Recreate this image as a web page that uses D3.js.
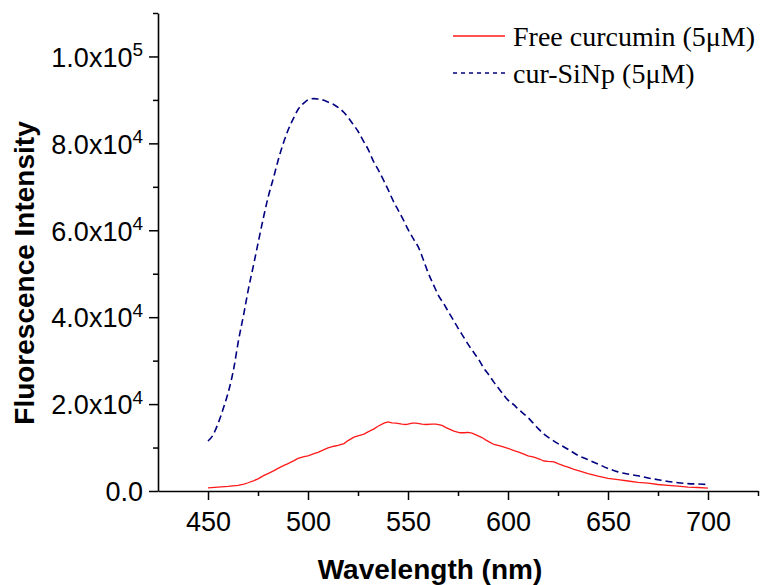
<!DOCTYPE html>
<html>
<head>
<meta charset="utf-8">
<script src="https://cdn.jsdelivr.net/npm/d3@7"></script>
<style>
  body { margin: 0; background: #fff; }
  svg { display: block; }
</style>
</head>
<body>
<div id="chart"></div>
<script>
// cur-SiNp (5uM) spectrum
const wlSiNp = [450, 452, 455, 458, 460, 463, 465, 468, 470, 473, 475, 478, 480, 483, 485, 488, 490, 493, 495, 498,
  500, 503, 505, 508, 510, 513, 515, 518, 520, 523, 525, 528, 530, 533, 535, 538, 540, 543, 545, 548,
  550, 553, 555, 558, 560, 563, 565, 568, 570, 573, 575, 578, 580, 583, 585, 588, 590, 593, 595, 598,
  600, 603, 605, 608, 610, 613, 615, 618, 620, 625, 630, 635, 640, 645, 650, 655, 660, 665, 670, 675,
  680, 685, 690, 695, 700];
const intSiNp = [11500, 12500, 15500, 19500, 22500, 28500, 34000, 41000, 46000, 52500, 57000, 63500, 67500, 72500, 76000, 80500, 83000, 86000, 87800, 89300,
  90000, 90300, 90200, 89900, 89500, 88900, 88300, 87100, 86000, 84100, 82800, 80300, 78700, 75600, 74000, 71300, 69400, 66400, 64700, 62100,
  60200, 57800, 56300, 52800, 50300, 47200, 45200, 43000, 41400, 39100, 37500, 35300, 33800, 31800, 30500, 28200, 27000, 25000, 23800, 22000,
  20900, 19800, 18900, 17700, 16900, 15400, 14400, 13100, 12400, 10900, 9600, 8200, 7200, 6200, 5200, 4400, 3900, 3500, 3000, 2600,
  2200, 1900, 1700, 1600, 1500];

// Free curcumin (5uM) spectrum
const wlFree = [450, 455, 460, 465, 468, 470, 473, 475, 478, 480, 483, 485, 488, 490, 493, 495, 498, 500, 503, 505,
  508, 510, 513, 515, 518, 520, 523, 525, 528, 530, 533, 535, 538, 540, 542, 544, 547, 549, 552, 554,
  557, 559, 562, 564, 567, 569, 571, 573, 576, 578, 580, 582, 584, 587, 589, 591, 593, 596, 598, 600,
  603, 605, 608, 610, 613, 616, 618, 620, 623, 625, 628, 630, 633, 636, 640, 645, 650, 655, 660, 665,
  670, 675, 680, 685, 690, 695, 700];
const intFree = [700, 900, 1050, 1300, 1600, 1900, 2400, 2800, 3600, 4000, 4700, 5200, 5900, 6300, 7000, 7500, 7900, 8100, 8600, 8900,
  9500, 9900, 10300, 10500, 10900, 11600, 12400, 12700, 13100, 13600, 14300, 14900, 15600, 15900, 15700, 15600, 15400, 15300, 15600, 15600,
  15400, 15300, 15400, 15400, 15100, 14600, 14200, 13800, 13400, 13400, 13500, 13300, 12900, 12300, 11700, 11200, 10700, 10400, 10100, 9800,
  9300, 9000, 8500, 8100, 7800, 7300, 6900, 6800, 6700, 6300, 5800, 5500, 5000, 4600, 4000, 3400, 2900, 2600, 2300, 2000,
  1800, 1500, 1300, 1100, 900, 800, 650];

const seriesNames = ["Free curcumin (5\u03bcM)", "cur-SiNp (5\u03bcM)"];
const xMajor = [450, 500, 550, 600, 650, 700];
const xMinor = [475, 525, 575, 625, 675, 725];
const yMajor = [0, 20000, 40000, 60000, 80000, 100000];
const yMinor = [10000, 30000, 50000, 70000, 90000, 110000];

const width = 762, height = 585;
const margin = { top: 13, right: 4, bottom: 94, left: 158 };
const sans = "'Liberation Sans', Arial, sans-serif";
const serif = "'Liberation Serif', 'Times New Roman', serif";

const svg = d3.select("#chart").append("svg")
  .attr("width", width)
  .attr("height", height);

const x = d3.scaleLinear([425, 725], [margin.left, width - margin.right]);
const y = d3.scaleLinear([0, 110000], [height - margin.bottom, margin.top]);

/* curves */
const line = d3.line()
  .x(d => x(d[0]))
  .y(d => y(d[1]));

svg.append("path")
  .datum(d3.zip(wlFree, intFree))
  .attr("fill", "none")
  .attr("stroke", "#ff1a1a")
  .attr("stroke-width", 1.3)
  .attr("d", line);

svg.append("path")
  .datum(d3.zip(wlSiNp, intSiNp))
  .attr("fill", "none")
  .attr("stroke", "#000080")
  .attr("stroke-width", 1.6)
  .attr("stroke-dasharray", "7,4")
  .attr("d", line.curve(d3.curveMonotoneX));

/* axes: minor ticks first, then major with labels */
const xAxisY = height - margin.bottom;

svg.append("g")
  .attr("transform", `translate(0,${xAxisY})`)
  .call(d3.axisBottom(x).tickValues(xMinor).tickSize(5).tickFormat("").tickSizeOuter(0))
  .call(g => g.select(".domain").remove());

const gx = svg.append("g")
  .attr("transform", `translate(0,${xAxisY})`)
  .call(d3.axisBottom(x).tickValues(xMajor).tickSize(9).tickPadding(12).tickSizeOuter(0).tickFormat(d3.format("d")));

gx.selectAll("text")
  .attr("font-family", sans)
  .attr("font-size", 27)
  .attr("fill", "#000");

svg.append("g")
  .attr("transform", `translate(${margin.left},0)`)
  .call(d3.axisLeft(y).tickValues(yMinor).tickSize(5).tickFormat("").tickSizeOuter(0))
  .call(g => g.select(".domain").remove());

const gy = svg.append("g")
  .attr("transform", `translate(${margin.left},0)`)
  .call(d3.axisLeft(y).tickValues(yMajor).tickSize(9).tickPadding(6).tickSizeOuter(0));

gy.selectAll("text")
  .attr("font-family", sans)
  .attr("font-size", 27)
  .attr("fill", "#000")
  .attr("dy", "0.36em")
  .each(function (v) {
    const t = d3.select(this).text(null);
    if (v === 0) { t.text("0.0"); return; }
    const e = Math.floor(Math.log10(v));
    t.append("tspan").text((v / 10 ** e).toFixed(1) + "x10");
    t.append("tspan").attr("font-size", 19).attr("dy", "-0.55em").text(e);
  });

svg.selectAll(".domain").attr("stroke-width", 1.6).attr("stroke", "#000");
svg.selectAll(".tick line").attr("stroke-width", 1.5).attr("stroke", "#000");

/* axis titles */
svg.append("text")
  .attr("x", 430)
  .attr("y", 579)
  .attr("text-anchor", "middle")
  .attr("font-family", sans)
  .attr("font-weight", "bold")
  .attr("font-size", 28)
  .text("Wavelength (nm)");

svg.append("text")
  .attr("transform", "rotate(-90)")
  .attr("x", -273)
  .attr("y", 34)
  .attr("text-anchor", "middle")
  .attr("font-family", sans)
  .attr("font-weight", "bold")
  .attr("font-size", 28)
  .text("Fluorescence Intensity");

/* legend */
const legendRows = [
  { name: seriesNames[0], color: "#ff1a1a", dash: null, w: 1.3 },
  { name: seriesNames[1], color: "#000080", dash: "4,4", w: 1.6 }
];

const legend = svg.append("g")
  .attr("transform", "translate(453,36)");

legend.selectAll("g")
  .data(legendRows)
  .join("g")
    .attr("transform", (d, i) => `translate(0,${i * 37})`)
  .call(g => {
    g.append("line")
      .attr("x1", 0).attr("x2", 52)
      .attr("stroke", d => d.color)
      .attr("stroke-width", d => d.w)
      .attr("stroke-dasharray", d => d.dash);
    g.append("text")
      .attr("x", 60)
      .attr("y", 10)
      .attr("font-family", serif)
      .attr("font-size", 28)
      .text(d => d.name);
  });
</script>
</body>
</html>
